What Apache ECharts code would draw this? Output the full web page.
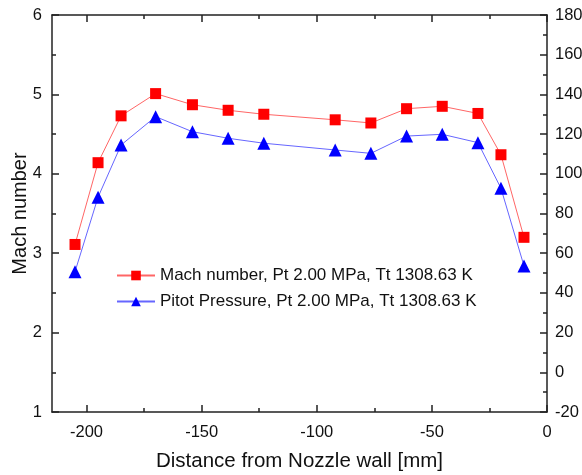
<!DOCTYPE html>
<html>
<head>
<meta charset="utf-8">
<script src="https://cdn.jsdelivr.net/npm/echarts@6/dist/echarts.min.js"></script>
<style>
  html, body { margin: 0; padding: 0; background: #fff; }
  #main { width: 582px; height: 475px; }
</style>
</head>
<body>
<div id="main"></div>
<script>
// distance from nozzle wall [mm]
var distance = [-205, -195, -185, -170, -154, -138.5, -123, -92, -76.5, -61, -45.5, -30, -20, -10];
var machNumber = [3.11, 4.14, 4.73, 5.01, 4.87, 4.80, 4.75, 4.68, 4.64, 4.82, 4.85, 4.76, 4.24, 3.20];
var pitotPressure = [50.7, 88.2, 114.5, 128.8, 121.2, 117.9, 115.4, 112, 110.3, 119, 119.9, 115.7, 92.7, 53.6];
var xMajorTicks = [-200, -150, -100, -50, 0];
var xMinorTicks = [-175, -125, -75, -25];
var legendNames = ['Mach number, Pt 2.00 MPa, Tt 1308.63 K', 'Pitot Pressure, Pt 2.00 MPa, Tt 1308.63 K'];

var font = 'Liberation Sans, Arial, sans-serif';
var axisColor = '#222';

function pairs(xs, ys) {
    return xs.map(function (x, i) { return [x, ys[i]]; });
}

function xAxisDef(pos, ticks, len, showLine, showLabel) {
    return {
        type: 'value', position: pos, min: -215, max: 0,
        axisLine: { show: showLine, onZero: false, lineStyle: { color: axisColor, width: 1.5 } },
        axisTick: { show: true, inside: true, length: len, customValues: ticks, lineStyle: { color: axisColor, width: 1.5 } },
        axisLabel: { show: showLabel, customValues: ticks, color: '#111', fontSize: 16.5, fontFamily: font, margin: 12 },
        splitLine: { show: false }
    };
}

var myChart = echarts.init(document.getElementById('main'));

var bottomAxis = xAxisDef('bottom', xMajorTicks, 7, true, true);
bottomAxis.name = 'Distance from Nozzle wall [mm]';
bottomAxis.nameLocation = 'middle';
bottomAxis.nameGap = 39;
bottomAxis.nameMoveOverlap = false;
bottomAxis.nameTextStyle = { color: '#111', fontSize: 20.5, fontFamily: font };

var option = {
    animation: false,
    backgroundColor: '#fff',
    grid: { left: 52, right: 35, top: 15, bottom: 63, outerBoundsMode: 'none', containLabel: false },
    legend: {
        orient: 'vertical', left: 111, top: 262, itemGap: 9,
        itemWidth: 38, itemHeight: 12,
        textStyle: { color: '#111', fontSize: 17, fontFamily: font },
        data: legendNames
    },
    xAxis: [
        bottomAxis,
        xAxisDef('bottom', xMinorTicks, 4, false, false),
        xAxisDef('top', xMajorTicks, 7, true, false),
        xAxisDef('top', xMinorTicks, 4, false, false)
    ],
    yAxis: [{
        type: 'value', position: 'left', min: 1, max: 6, interval: 1,
        name: 'Mach number', nameLocation: 'middle', nameGap: 22, nameMoveOverlap: false,
        nameTextStyle: { color: '#111', fontSize: 20, fontFamily: font },
        axisLine: { show: true, onZero: false, lineStyle: { color: axisColor, width: 1.5 } },
        axisTick: { inside: true, length: 7, lineStyle: { color: axisColor, width: 1.5 } },
        minorTick: { show: true, splitNumber: 2, length: 4, lineStyle: { color: axisColor, width: 1.5 } },
        axisLabel: { color: '#111', fontSize: 16.5, fontFamily: font, margin: 10 },
        splitLine: { show: false }
    }, {
        type: 'value', position: 'right', min: -20, max: 180, interval: 20,
        axisLine: { show: true, onZero: false, lineStyle: { color: axisColor, width: 1.5 } },
        axisTick: { inside: true, length: 7, lineStyle: { color: axisColor, width: 1.5 } },
        minorTick: { show: true, splitNumber: 2, length: 4, lineStyle: { color: axisColor, width: 1.5 } },
        axisLabel: { color: '#111', fontSize: 16.5, fontFamily: font, margin: 8 },
        splitLine: { show: false }
    }],
    series: [{
        name: legendNames[0], type: 'line', xAxisIndex: 0, yAxisIndex: 0,
        data: pairs(distance, machNumber),
        symbol: 'rect', symbolSize: 11,
        lineStyle: { color: '#ff6666', width: 1 },
        itemStyle: { color: '#ff0000' }
    }, {
        name: legendNames[1], type: 'line', xAxisIndex: 0, yAxisIndex: 1,
        data: pairs(distance, pitotPressure),
        symbol: 'triangle', symbolSize: 13,
        lineStyle: { color: '#6666ff', width: 1 },
        itemStyle: { color: '#0000ff' }
    }]
};

myChart.setOption(option);
</script>
</body>
</html>
